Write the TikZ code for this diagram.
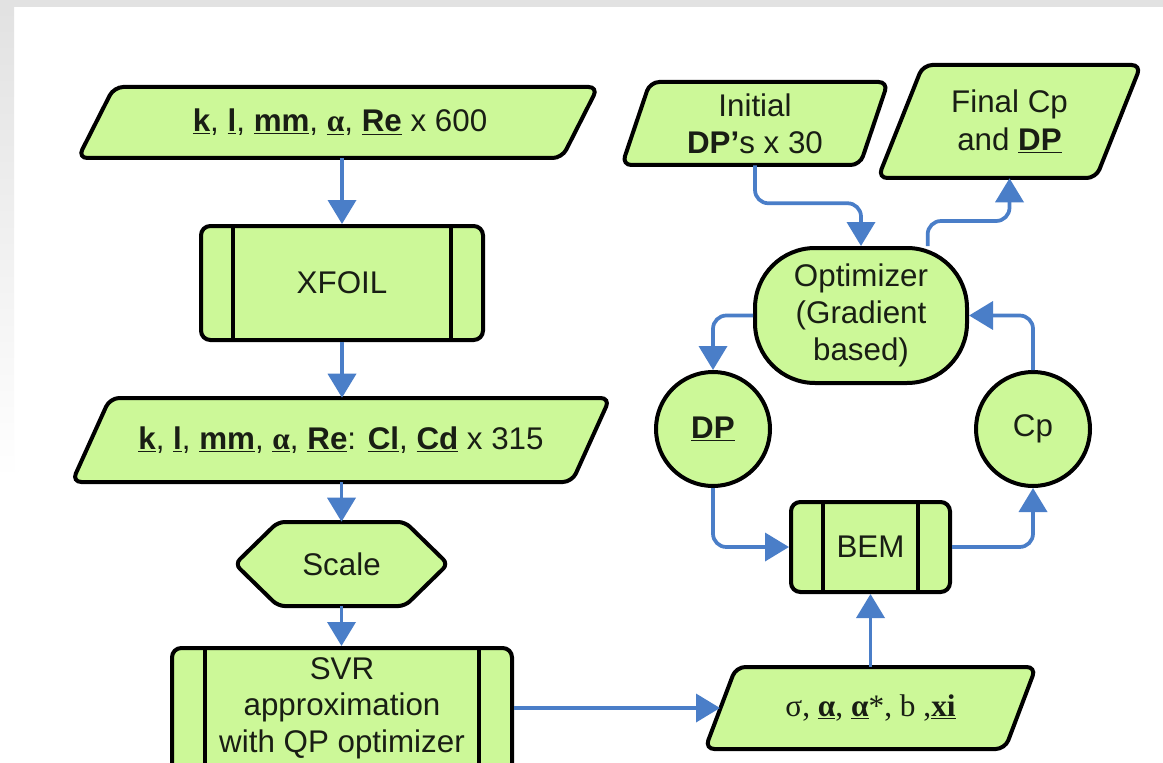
\documentclass[tikz,border=0pt]{standalone}
\usepackage{fontspec}
\setmainfont{Liberation Sans}
\newfontfamily\serifx{Liberation Serif}
\usetikzlibrary{arrows.meta}
\definecolor{fillg}{RGB}{204,248,152}
\definecolor{arrb}{RGB}{74,126,200}
\definecolor{bgg}{RGB}{226,226,226}
\definecolor{txtc}{RGB}{25,30,20}
\newcommand{\ub}[1]{\underline{\textbf{#1}}}
\tikzset{
  shapeline/.style={draw=black, line width=3pt, fill=fillg, rounded corners=7pt},
  lbl/.style={inner sep=0pt, align=center, text=txtc, font=\fontsize{23.5}{28}\selectfont},
  inv/.style={lbl, draw=none},
  boxnode/.style={lbl, draw=black, line width=3pt, fill=fillg, rounded corners=7pt},
  innerline/.style={draw=black, line width=3pt},
  arr/.style={draw=arrb, line width=2.8pt, rounded corners=10pt, -{Triangle[width=21pt,length=18pt]}},
}
\begin{document}
\begin{tikzpicture}[x=0.75pt,y=-0.75pt]
\useasboundingbox (0,0) rectangle (1163,763);
\fill[white] (0,0) rectangle (1163,763);
\fill[bgg] (0,0) rectangle (1163,7);
\shade[top color=bgg, bottom color=white] (0,7) rectangle (14,480);

% ---- left column ----
\draw[shapeline] (78,158) -- (562,158) -- (598,87) -- (114,87) -- cycle;
\node[inv, minimum width=390pt, minimum height=53.25pt] (p1) at (340,122.5)
  {\ub{k}, \ub{l}, \ub{mm}, \underline{{\serifx\bfseries α}}, \ub{Re} x 600};

\node[boxnode, minimum width=211.5pt, minimum height=85.5pt] (xf) at (342,283) {XFOIL};
\draw[innerline] ([xshift=25.5pt]xf.north west) -- ([xshift=25.5pt]xf.south west);
\draw[innerline] ([xshift=-25.5pt]xf.north east) -- ([xshift=-25.5pt]xf.south east);

\draw[shapeline] (72,482) -- (572,482) -- (610,398) -- (110,398) -- cycle;
\node[inv, minimum width=403.5pt, minimum height=63pt] (p2) at (341,440)
  {\ub{k}, \ub{l}, \ub{mm}, \underline{{\serifx\bfseries α}}, \ub{Re}: \ub{Cl}, \ub{Cd} x 315};

\draw[shapeline, rounded corners=5pt] (235,564) -- (278,522) -- (405,522) -- (448,564) -- (405,606) -- (278,606) -- cycle;
\node[inv, minimum width=159.75pt, minimum height=63pt] (sc) at (341.5,564) {Scale};

\node[boxnode, minimum width=255pt, minimum height=106.5pt] (svr) at (342,719) {};
\draw[innerline] ([xshift=26.25pt]svr.north west) -- ([xshift=26.25pt]svr.south west);
\draw[innerline] ([xshift=-26.25pt]svr.north east) -- ([xshift=-26.25pt]svr.south east);
\node[lbl, font=\fontsize{23.5}{27.5}\selectfont] (svrt) at (342,708) {SVR\\approximation\\with QP optimizer};

% ---- right part ----
\draw[shapeline] (705,749) -- (1005,749) -- (1036,667) -- (736,667) -- cycle;
\node[inv, minimum width=248.25pt, minimum height=61.5pt] (sig) at (870.5,708)
  {\serifx σ, \ub{α}, \ub{α}*, b ,\ub{xi}};
\coordinate (sigL) at (720,708);

\node[boxnode, minimum width=119.25pt, minimum height=67.5pt] (bem) at (870.5,547) {BEM};
\draw[innerline] ([xshift=25.5pt]bem.north west) -- ([xshift=25.5pt]bem.south west);
\draw[innerline] ([xshift=-25.5pt]bem.north east) -- ([xshift=-25.5pt]bem.south east);

\node[boxnode, shape=circle, minimum size=85.5pt] (dp) at (713,429) {\ub{DP}};
\node[boxnode, shape=circle, minimum size=85.5pt] (cp) at (1033,429) {Cp};

\node[boxnode, rounded corners=45pt, minimum width=159pt, minimum height=101.25pt] (opt) at (861,315.5)
  {Optimizer\\(Gradient\\based)};

\draw[shapeline] (622,165) -- (860,165) -- (888,82) -- (650,82) -- cycle;
\node[inv, minimum width=199.5pt, minimum height=62.25pt] (ini) at (755,123.5)
  {Initial\\\textbf{DP’}s x 30};

\draw[shapeline] (878,178) -- (1096,178) -- (1141,65) -- (923,65) -- cycle;
\node[inv, minimum width=197.25pt, minimum height=84.75pt] (fin) at (1009.5,121.5)
  {Final Cp\\and \ub{DP}};

% ---- connectors ----
\draw[arr] (p1.south -| xf.north) -- (xf.north);
\draw[arr] (xf.south) -- (p2.north -| xf.south);
\draw[arr] (p2.south -| sc.north) -- (sc.north);
\draw[arr] (sc.south) -- (svr.north -| sc.south);
\draw[arr] (svrt -| svr.east) -- (sigL);
\draw[arr] (sig.north) -- (bem.south);
\draw[arr] (dp.south) |- (bem.west);
\draw[arr] (bem.east) -| (cp.south);
\draw[arr] (cp.north) |- (opt.east);
\draw[arr] (opt.west) -| (dp.north);
\draw[arr] (ini.south) -- ++(0,38) -| (opt.north);
\draw[arr] ([xshift=50pt]opt.north) -- ++(0,-25) -| (fin.south);
\end{tikzpicture}
\end{document}
